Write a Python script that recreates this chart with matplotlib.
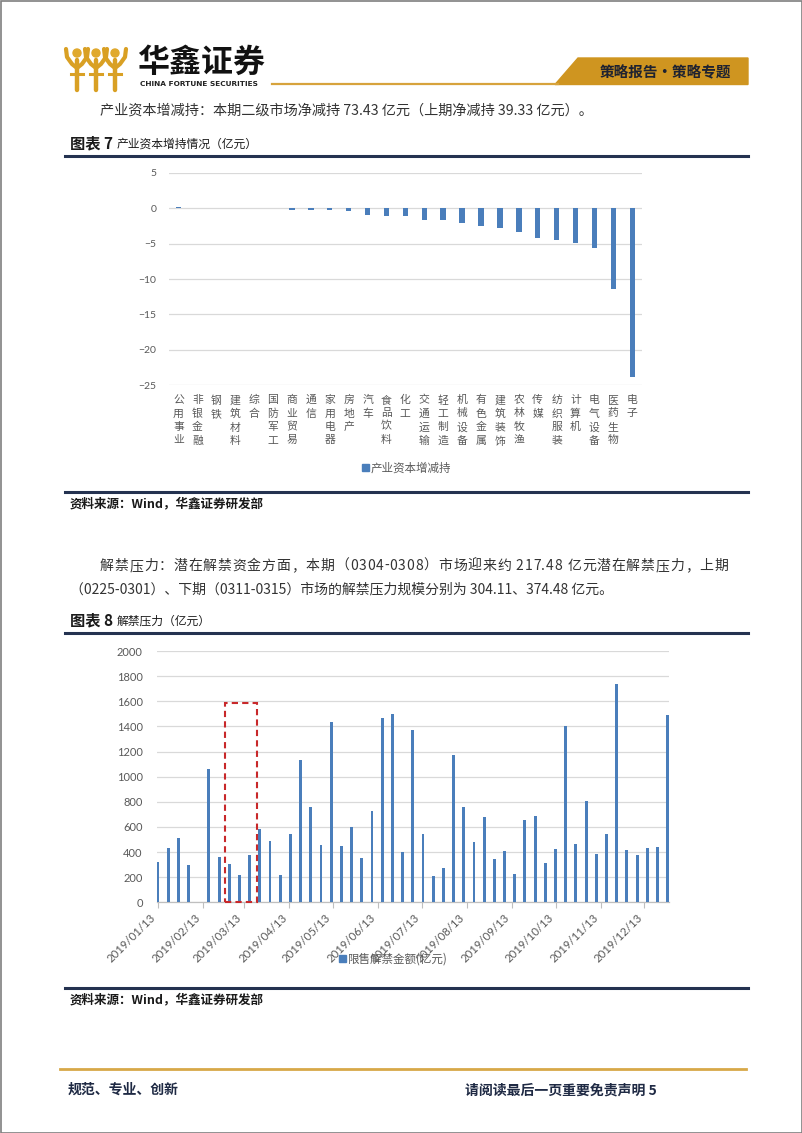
import matplotlib
matplotlib.use("Agg")
import matplotlib.pyplot as plt
import matplotlib.dates as mdates
from matplotlib.patches import Polygon, Rectangle, Circle
import pandas as pd

plt.rcParams['font.family'] = ['Noto Sans CJK SC', 'DejaVu Sans']

# ---------------- data ----------------
industries = ['公用事业', '非银金融', '钢铁', '建筑材料', '综合', '国防军工', '商业贸易', '通信',
              '家用电器', '房地产', '汽车', '食品饮料', '化工', '交通运输', '轻工制造', '机械设备',
              '有色金属', '建筑装饰', '农林牧渔', '传媒', '纺织服装', '计算机', '电气设备',
              '医药生物', '电子']
holdings = [0.12, 0.01, 0.0, 0.0, -0.02, -0.03, -0.23, -0.25, -0.30, -0.42, -1.03, -1.13,
            -1.13, -1.69, -1.74, -2.07, -2.54, -2.77, -3.38, -4.23, -4.46, -4.98, -5.68,
            -11.36, -23.76]
holdings_label = '产业资本增减持'

unlock_dates = ['2019-01-13', '2019-01-20', '2019-01-27', '2019-02-03', '2019-02-10',
                '2019-02-17', '2019-02-24', '2019-03-03', '2019-03-10', '2019-03-17',
                '2019-03-24', '2019-03-31', '2019-04-07', '2019-04-14', '2019-04-21',
                '2019-04-28', '2019-05-05', '2019-05-12', '2019-05-19', '2019-05-26',
                '2019-06-02', '2019-06-09', '2019-06-16', '2019-06-23', '2019-06-30',
                '2019-07-07', '2019-07-14', '2019-07-21', '2019-07-28', '2019-08-04',
                '2019-08-11', '2019-08-18', '2019-08-25', '2019-09-01', '2019-09-08',
                '2019-09-15', '2019-09-22', '2019-09-29', '2019-10-06', '2019-10-13',
                '2019-10-20', '2019-10-27', '2019-11-03', '2019-11-10', '2019-11-17',
                '2019-11-24', '2019-12-01', '2019-12-08', '2019-12-15', '2019-12-22',
                '2019-12-29']
unlock_values = [320, 430, 515, 300, 0, 1060, 360, 304.11, 217.48, 374.48,
                 585, 490, 215, 540, 1135, 755, 455, 1435, 445, 600,
                 350, 725, 1465, 1500, 400, 1375, 546, 212, 276, 1172,
                 756, 477, 676, 347, 408, 223, 658, 687, 313, 424,
                 1400, 464, 804, 382, 544, 1740, 414, 377, 430, 440,
                 1488]
unlock_label = '限售解禁金额(亿元)'
month_ticks = ['2019-01-13', '2019-02-13', '2019-03-13', '2019-04-13', '2019-05-13',
               '2019-06-13', '2019-07-13', '2019-08-13', '2019-09-13', '2019-10-13',
               '2019-11-13', '2019-12-13']
highlight_span = ['2019-02-28', '2019-03-22']
highlight_top = 1590

# ---------------- figure ----------------
W, H = 802, 1133
fig = plt.figure(figsize=(W / 100, H / 100), dpi=100)
fig.patch.set_facecolor('white')
renderer = fig.canvas.get_renderer()


def px_rect(l, t, r, b):
    return [l / W, 1 - b / H, (r - l) / W, (b - t) / H]


bg = fig.add_axes([0, 0, 1, 1])
bg.set_xlim(0, W)
bg.set_ylim(H, 0)
bg.axis('off')

GOLD = '#CF9520'
NAVY = '#243250'
TXT = '#333333'
GRAY = '#595959'
BAR = '#4A7EBB'


def justified(text, x0, x1, y, **kw):
    """Place a line of text so it spans x0..x1 (like a justified paragraph line)."""
    widths = []
    for i in range(len(text) + 1):
        if i == 0:
            widths.append(0.0)
            continue
        t = bg.text(0, y, text[:i], **kw)
        widths.append(t.get_window_extent(renderer).width)
        t.remove()
    extra = (x1 - x0 - widths[-1]) / (len(text) - 1)
    for i, ch in enumerate(text):
        bg.text(x0 + widths[i] + i * extra, y, ch, ha='left', **kw)


# page border
bg.add_patch(Rectangle((0.5, 0.5), W - 1, H - 1, fill=False, ec='#7F7F7F', lw=1.2))

# logo icon (three golden figures)
for cx in (77, 96, 115):
    bg.plot([cx, cx], [90, 60], color='#D9A024', lw=3.2, solid_capstyle='round')
    bg.plot([cx, cx - 5, cx - 10, cx - 11], [68, 64, 57, 49], color='#D9A024', lw=3, solid_capstyle='round')
    bg.plot([cx, cx + 5, cx + 10, cx + 11], [68, 64, 57, 49], color='#D9A024', lw=3, solid_capstyle='round')
    bg.plot([cx - 6, cx + 6], [74, 74], color='#D9A024', lw=2.2)
    bg.add_patch(Circle((cx, 53), 4, color='#E0A92E'))
bg.text(137, 63, '华鑫证券', fontsize=23, fontweight='bold', color='#111111', va='center', ha='left')
bg.text(140, 84, 'CHINA FORTUNE SECURITIES', fontsize=5.3, fontweight='bold', color='#222222',
        va='center', ha='left', family='DejaVu Sans')

# header rule and tag
bg.plot([272, 558], [84, 84], color='#D7A33C', lw=1.6)
bg.add_patch(Polygon([(555, 84.5), (578, 58), (748, 58), (748, 84.5)], closed=True, color=GOLD))
bg.text(665, 72, '策略报告·策略专题', fontsize=10.5, color='#1E2230', ha='center', va='center',
        fontweight='bold')

# paragraph 1
bg.text(100, 111, '产业资本增减持：本期二级市场净减持 73.43 亿元（上期净减持 39.33 亿元）。',
        fontsize=10.2, color=TXT, va='center', ha='left')

# figure 7 header
bg.text(70, 143, '图表 7', fontsize=11, fontweight='bold', color='#1A1A1A', va='center')
bg.text(117, 144, '产业资本增持情况（亿元）', fontsize=8.5, color='#1A1A1A', va='center')
bg.plot([65, 748], [155.5, 155.5], color=NAVY, lw=2.2)

# ---------------- chart 1 ----------------
ax1 = fig.add_axes(px_rect(169, 172.7, 641.7, 385.3))
xs = list(range(len(industries)))
ax1.bar(xs, holdings, width=0.29, color=BAR, zorder=3)
ax1.set_xlim(-0.5, len(industries) - 0.5)
ax1.set_ylim(-25, 5)
ax1.set_yticks([5, 0, -5, -10, -15, -20, -25])
ax1.grid(axis='y', color='#D9D9D9', lw=0.9, zorder=0)
for s in ax1.spines.values():
    s.set_visible(False)
ax1.tick_params(axis='y', length=0, labelsize=7.5, labelcolor=GRAY, pad=9)
ax1.set_xticks(xs)
ax1.set_xticklabels(['\n'.join(n) for n in industries], fontsize=7.8, color=GRAY,
                    linespacing=1.42, va='top')
ax1.tick_params(axis='x', length=0, pad=7)
for lab in ax1.get_yticklabels():
    lab.set_family(['Lato', 'DejaVu Sans'])

# legend chart 1
bg.add_patch(Rectangle((362, 464), 7, 7, color=BAR))
bg.text(371, 468, holdings_label, fontsize=8.3, color=GRAY, va='center', ha='left')

bg.plot([65, 748], [491.5, 491.5], color=NAVY, lw=2.2)
bg.text(70, 504, '资料来源：Wind，华鑫证券研发部', fontsize=9, fontweight='bold', color='#1A1A1A',
        va='center')

# paragraph 2
justified('解禁压力：潜在解禁资金方面，本期（0304-0308）市场迎来约 217.48 亿元潜在解禁压力，上期',
          100, 728, 566, fontsize=10, color=TXT, va='center')
bg.text(70, 589, '（0225-0301）、下期（0311-0315）市场的解禁压力规模分别为 304.11、374.48 亿元。',
        fontsize=10, color=TXT, va='center', ha='left')

# figure 8 header
bg.text(70, 620, '图表 8', fontsize=11, fontweight='bold', color='#1A1A1A', va='center')
bg.text(117, 621, '解禁压力（亿元）', fontsize=8.5, color='#1A1A1A', va='center')
bg.plot([65, 748], [632.5, 632.5], color=NAVY, lw=2.2)

# ---------------- chart 2 ----------------
ax2 = fig.add_axes(px_rect(156.7, 651, 669.3, 902.3))
d = pd.to_datetime(unlock_dates)
ax2.bar(d, unlock_values, width=2.0, color=BAR, zorder=3)
ax2.set_xlim(d[0] - pd.Timedelta(days=0.8), d[-1] + pd.Timedelta(days=1.1))
ax2.set_ylim(0, 2000)
ax2.set_yticks(range(0, 2001, 200))
ax2.grid(axis='y', color='#D9D9D9', lw=0.9, zorder=0)
for k, s in ax2.spines.items():
    s.set_visible(k == 'bottom')
ax2.spines['bottom'].set_color('#BFBFBF')
ax2.spines['bottom'].set_linewidth(0.9)
ax2.tick_params(axis='y', length=0, labelsize=8, labelcolor=GRAY, pad=10)
ax2.set_xticks(pd.to_datetime(month_ticks))
ax2.xaxis.set_major_formatter(mdates.DateFormatter('%Y/%m/%d'))
ax2.tick_params(axis='x', length=4, color='#BFBFBF', labelsize=8.2, labelcolor=GRAY, pad=3)
for lab in ax2.get_xticklabels():
    lab.set_rotation(45)
    lab.set_ha('right')
    lab.set_family(['Lato', 'DejaVu Sans'])
for lab in ax2.get_yticklabels():
    lab.set_family(['Lato', 'DejaVu Sans'])

h0, h1 = pd.to_datetime(highlight_span)
x0 = mdates.date2num(h0)
x1 = mdates.date2num(h1)
ax2.add_patch(Rectangle((x0, 0), x1 - x0, highlight_top, fill=False, ec='#C8282A', lw=1.5,
                        ls=(0, (3, 2)), zorder=4, clip_on=False))

# legend chart 2
bg.add_patch(Rectangle((336, 951), 118, 15, color='white', zorder=5))
bg.add_patch(Rectangle((339, 955), 7, 7, color=BAR, zorder=6))
bg.text(348, 959, unlock_label, fontsize=8.3, color=GRAY, va='center', ha='left', zorder=6)

bg.plot([65, 748], [988, 988], color=NAVY, lw=2.2)
bg.text(70, 1000, '资料来源：Wind，华鑫证券研发部', fontsize=9, fontweight='bold', color='#1A1A1A',
        va='center')

# footer
bg.plot([60, 746], [1069, 1069], color='#D7A848', lw=2)
bg.text(68, 1090, '规范、专业、创新', fontsize=10, fontweight='bold', color='#1F2A44', va='center')
bg.text(465, 1090, '请阅读最后一页重要免责声明 5', fontsize=10, fontweight='bold', color='#1F2A44',
        va='center')

fig.savefig('out.png', dpi=100, facecolor='white')
